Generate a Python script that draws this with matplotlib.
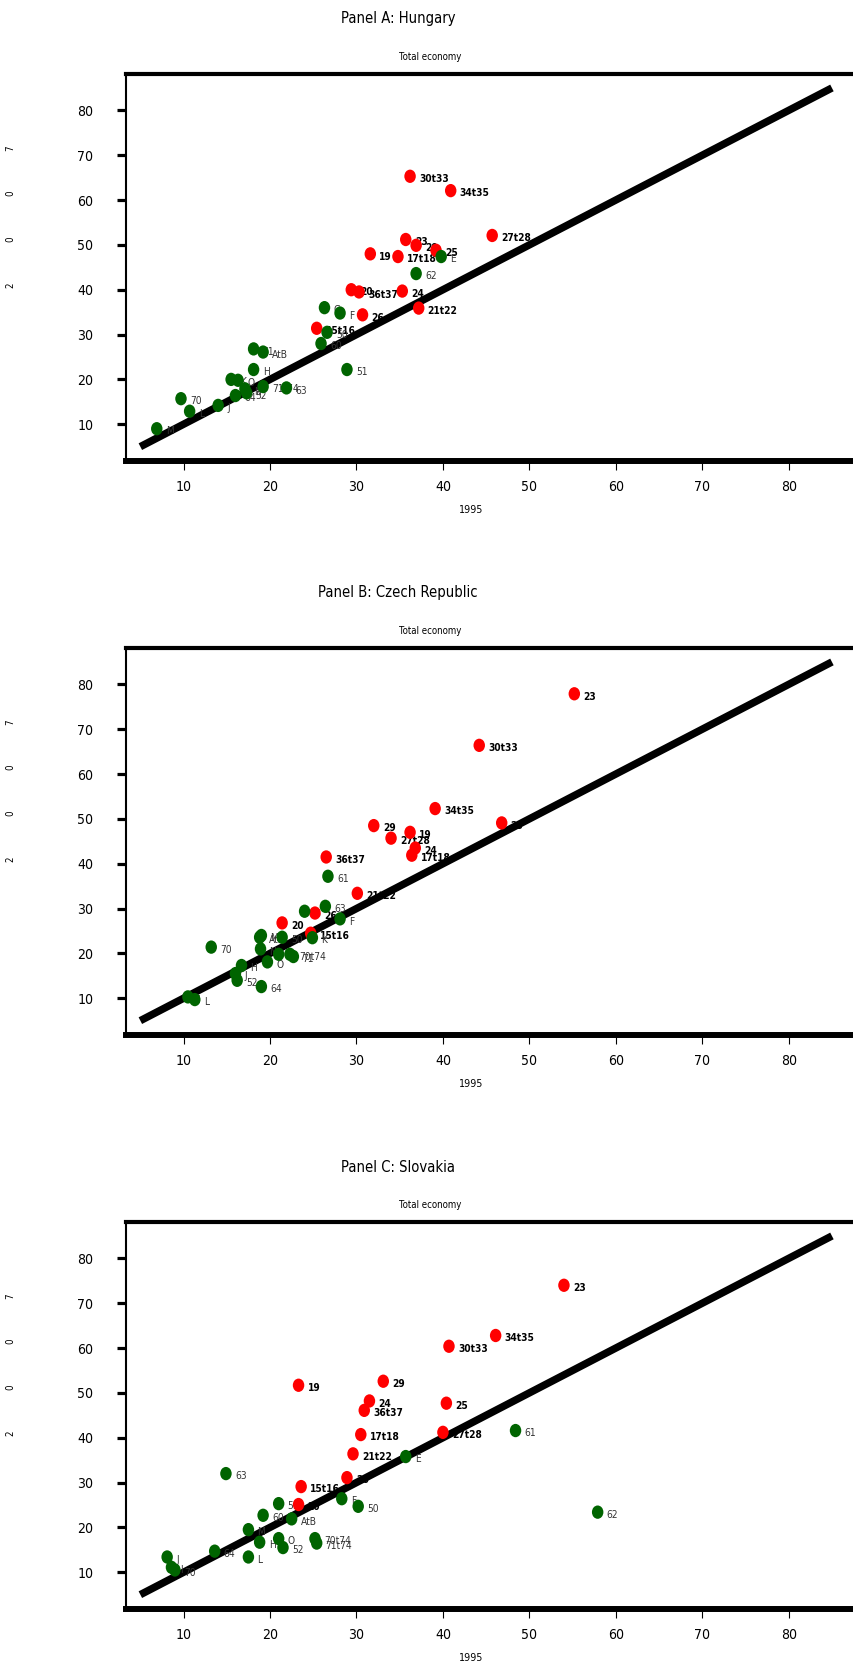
import matplotlib
matplotlib.use("Agg")
import matplotlib.pyplot as plt
from matplotlib.path import Path
from matplotlib.transforms import Affine2D
from matplotlib import font_manager as fm

# pick a narrow font if one is installed
COND = ("condensed", "semi-condensed", "extra-condensed", "ultra-condensed")
fam, stretch, scale = "Liberation Sans", "normal", 1.0
cands = []
for f in fm.fontManager.ttflist:
    st = f.stretch
    if (isinstance(st, str) and st in COND) or (isinstance(st, (int, float)) and st < 500) \
            or "Narrow" in f.name or "Condensed" in f.name:
        cands.append(f)
if cands:
    pref = sorted(cands, key=lambda f: (0 if "Liberation" in f.name else 1 if "DejaVu" in f.name else 2))
    fam, stretch, scale = pref[0].name, pref[0].stretch, 1.12
plt.rcParams['font.family'] = [fam, 'DejaVu Sans']
try:
    plt.rcParams['font.stretch'] = stretch
except Exception:
    pass

# ---------------- data ----------------
panel_titles = ["Panel A: Hungary", "Panel B: Czech Republic", "Panel C: Slovakia"]
subtitle = "Total economy"
x_label = "1995"
y_label = "2007"
ticks = [10, 20, 30, 40, 50, 60, 70, 80]
diag = [5, 85]

hu_red_labels = ["30t33", "34t35", "27t28", "23", "29", "25", "19", "17t18",
                 "20", "36t37", "24", "21t22", "26", "15t16"]
hu_red_x = [36.2, 40.9, 45.7, 35.7, 36.9, 39.2, 31.6, 34.8, 29.4, 30.3, 35.3, 37.2, 30.7, 25.4]
hu_red_y = [65.3, 62.1, 52.1, 51.2, 49.9, 48.8, 48.0, 47.4, 40.0, 39.5, 39.7, 35.9, 34.4, 31.4]

hu_green_labels = ["E", "62", "G", "F", "50", "60", "61", "AtB", "H", "K", "O", "N",
                   "71t74", "63", "51", "70", "L", "J", "64", "52", "M"]
hu_green_x = [39.8, 36.9, 26.3, 28.1, 26.6, 25.9, 18.1, 19.2, 18.1, 15.5, 16.3, 17.1,
              19.2, 21.9, 28.9, 9.7, 10.7, 14.0, 16.0, 17.3, 6.9]
hu_green_y = [47.4, 43.6, 36.0, 34.8, 30.5, 28.0, 26.8, 26.1, 22.2, 20.0, 19.8, 17.9,
              18.4, 18.1, 22.2, 15.7, 12.9, 14.2, 16.4, 17.0, 9.0]

cz_red_labels = ["23", "30t33", "34t35", "25", "29", "27t28", "19", "24", "17t18",
                 "36t37", "21t22", "26", "20", "15t16"]
cz_red_x = [55.2, 44.2, 39.1, 46.8, 32.0, 34.0, 36.2, 36.8, 36.4, 26.5, 30.1, 25.2, 21.4, 24.7]
cz_red_y = [77.9, 66.4, 52.3, 49.1, 48.5, 45.7, 47.0, 43.5, 41.9, 41.5, 33.4, 29.0, 26.8, 24.5]

cz_green_labels = ["61", "63", "G", "F", "K", "50", "AtB", "M", "N", "O", "51",
                   "70t74", "71", "70", "H", "J", "52", "64", "I", "L"]
cz_green_x = [26.7, 26.4, 24.0, 28.1, 24.9, 21.4, 18.8, 19.0, 18.9, 19.7, 21.0,
              22.3, 22.7, 13.2, 16.7, 16.0, 16.2, 19.0, 10.5, 11.3]
cz_green_y = [37.2, 30.5, 29.4, 27.7, 23.5, 23.6, 23.6, 24.0, 21.0, 18.1, 19.8,
              19.8, 19.3, 21.4, 17.3, 15.5, 14.0, 12.6, 10.3, 9.7]

sk_red_labels = ["23", "34t35", "30t33", "29", "19", "24", "36t37", "25", "27t28",
                 "17t18", "21t22", "26", "15t16", "20"]
sk_red_x = [54.0, 46.1, 40.7, 33.1, 23.3, 31.5, 30.9, 40.4, 40.0, 30.5, 29.6, 28.9, 23.6, 23.3]
sk_red_y = [74.0, 62.8, 60.4, 52.6, 51.7, 48.2, 46.1, 47.7, 41.2, 40.7, 36.4, 31.1, 29.1, 25.1]

sk_green_labels = ["61", "62", "E", "63", "F", "50", "51", "60", "AtB", "M", "H", "O",
                   "52", "70t74", "71t74", "64", "L", "J", "I", "70"]
sk_green_x = [48.4, 57.9, 35.7, 14.9, 28.3, 30.2, 21.0, 19.2, 22.5, 17.5, 18.8, 21.0,
              21.5, 25.2, 25.4, 13.6, 17.5, 8.1, 8.6, 9.0]
sk_green_y = [41.6, 23.4, 35.8, 32.0, 26.4, 24.7, 25.3, 22.7, 21.9, 19.5, 16.7, 17.5,
              15.5, 17.5, 16.5, 14.7, 13.4, 13.4, 11.1, 10.5]

panels = [
    (hu_red_labels, hu_red_x, hu_red_y, hu_green_labels, hu_green_x, hu_green_y),
    (cz_red_labels, cz_red_x, cz_red_y, cz_green_labels, cz_green_x, cz_green_y),
    (sk_red_labels, sk_red_x, sk_red_y, sk_green_labels, sk_green_x, sk_green_y),
]

# ---------------- drawing ----------------
W, H = 854, 1673
fig = plt.figure(figsize=(W / 100, H / 100), dpi=100)

RED = "#ff0000"
GREEN = "#006400"
circ = Path.unit_circle()
ellipse = Path(Affine2D().scale(0.86, 1.0).transform(circ.vertices), circ.codes)

LAB_FS = 6.5 * scale
TICK_FS = 9 * scale
TITLE_FS = 9.5 * scale
SUB_FS = 6.2 * scale
XL_FS = 6.8 * scale

step = 574  # vertical distance between panels (px)
for i, (rl, rx, ry, gl, gx, gy) in enumerate(panels):
    top_px = 73.6 + i * step
    bot_px = 461 + i * step
    left_px, right_px = 126, 859.6
    ax = fig.add_axes([left_px / W, 1 - bot_px / H, (right_px - left_px) / W, (bot_px - top_px) / H])
    ax.set_xlim(3.34, 88.2)
    ax.set_ylim(1.8, 88.2)

    ax.plot(diag, diag, color="black", lw=5.4, solid_capstyle="butt", zorder=2)

    ax.scatter(rx, ry, marker=ellipse, s=9.6 ** 2, color=RED, edgecolors="none", zorder=4)
    ax.scatter(gx, gy, marker=ellipse, s=9.6 ** 2, color=GREEN, edgecolors="none", zorder=4)
    for lab, x, y in zip(rl, rx, ry):
        ax.annotate(lab, (x, y), xytext=(6.5, -2), textcoords="offset points",
                    ha="left", va="center", fontsize=LAB_FS, fontweight="bold",
                    color="black", zorder=3)
    for lab, x, y in zip(gl, gx, gy):
        ax.annotate(lab, (x, y), xytext=(6.5, -2), textcoords="offset points",
                    ha="left", va="center", fontsize=LAB_FS, color="#333333", zorder=3)

    ax.spines["right"].set_visible(False)
    ax.spines["left"].set_linewidth(1.5)
    ax.spines["top"].set_linewidth(3.0)
    ax.spines["bottom"].set_linewidth(4.3)

    ax.set_xticks(ticks)
    ax.set_yticks(ticks)
    ax.set_xticklabels([str(t) for t in ticks])
    ax.set_yticklabels([str(t) for t in ticks])
    ax.tick_params(axis="y", direction="out", length=6.5, width=2.3, pad=17, labelsize=TICK_FS)
    ax.tick_params(axis="x", direction="out", length=6.5, width=0.8, pad=7, labelsize=TICK_FS)

    # titles
    fig.text(398 / W, 1 - (19 + i * step) / H, panel_titles[i], ha="center", va="center", fontsize=TITLE_FS)
    fig.text(430 / W, 1 - (57 + i * step) / H, subtitle, ha="center", va="center", fontsize=SUB_FS)
    fig.text(471 / W, 1 - (510 + i * step) / H, x_label, ha="center", va="center", fontsize=XL_FS)
    # spaced y label, reading bottom to top
    for k, ch in enumerate(y_label):
        yc = 285 - k * 45.7 + i * step
        fig.text(10 / W, 1 - yc / H, ch, ha="center", va="center", rotation=90, fontsize=7)

fig.savefig("out.png", dpi=100)
